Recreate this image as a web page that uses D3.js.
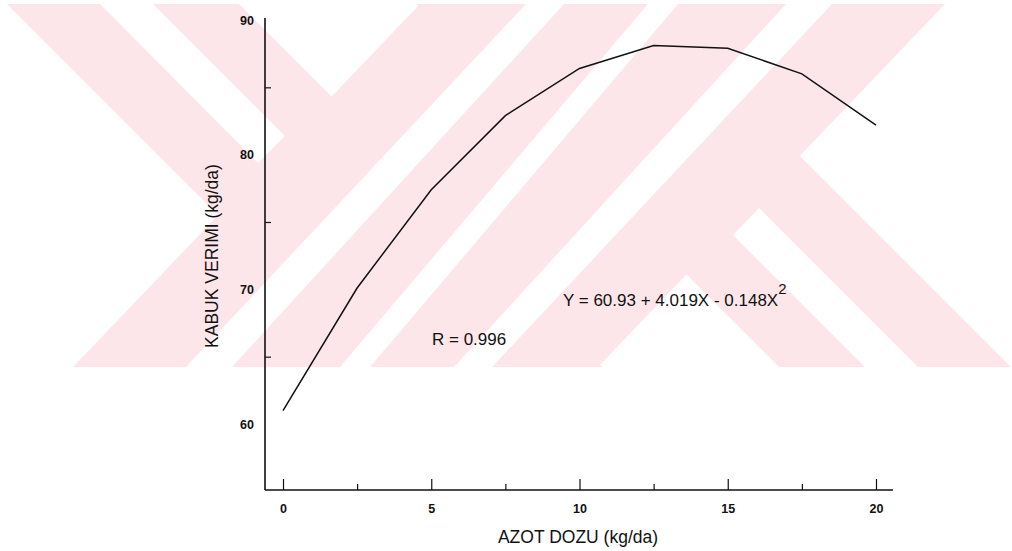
<!DOCTYPE html>
<html>
<head>
<meta charset="utf-8">
<script src="https://cdnjs.cloudflare.com/ajax/libs/d3/7.8.5/d3.min.js"></script>
<style>
  body { margin: 0; background: #fff; }
  svg { display: block; }
  text { font-family: "Liberation Sans", Arial, sans-serif; fill: #111; }
</style>
</head>
<body>
<div id="container"></div>
<script>
// data
var doses = [0, 2.5, 5, 7.5, 10, 12.5, 15, 17.5, 20];
var yields = [61.0, 70.1, 77.4, 82.9, 86.4, 88.1, 87.9, 86.0, 82.2];
var xMajor = [0, 5, 10, 15, 20];
var xMinor = [2.5, 7.5, 12.5, 17.5];
var yMajor = [60, 70, 80, 90];
var yMinor = [65, 75, 85];

var w = 1012, h = 551;

var svg = d3.select("#container")
  .append("svg")
  .attr("width", w)
  .attr("height", h);

svg.append("rect").attr("width", w).attr("height", h).attr("fill", "#fff");

// background watermark (pale pink bands, cut by white stripes)
var pinkBands = [
  [[7,4],[239,4],[602,367],[370,367]],
  [[420,4],[945,4],[598,367],[73,367]],
  [[416,4],[648,4],[1011,367],[779,367]]
];
var whiteCuts = [
  [[100,4],[153,4],[285,136],[258,163]],
  [[526,4],[564,4],[232,367],[186,367]],
  [[648,4],[678,4],[370,367],[340,367]],
  [[786,4],[832,4],[492,367],[454,367]],
  [[865,367],[918,367],[759,208],[733,235]]
];
var mark = svg.append("g").attr("class", "watermark");
mark.selectAll("polygon.pink")
  .data(pinkBands)
  .enter()
  .append("polygon")
  .attr("class", "pink")
  .attr("points", function(d) { return d.join(" "); })
  .attr("fill", "#fde6ea");
mark.selectAll("polygon.cut")
  .data(whiteCuts)
  .enter()
  .append("polygon")
  .attr("class", "cut")
  .attr("points", function(d) { return d.join(" "); })
  .attr("fill", "#fff");

// scales
var x = d3.scaleLinear().domain([0, 20]).range([283, 876]);
var y = d3.scaleLinear().domain([60, 90]).range([424, 20]);

// x axis
svg.append("g")
  .attr("transform", "translate(0,490)")
  .call(d3.axisBottom(x).tickValues(xMajor).tickSizeInner(-11).tickSizeOuter(0).tickPadding(14));
svg.append("g")
  .attr("transform", "translate(0,490)")
  .call(d3.axisBottom(x).tickValues(xMinor).tickSizeInner(-6).tickSizeOuter(0).tickFormat(""));

// y axis
svg.append("g")
  .attr("transform", "translate(265,0)")
  .call(d3.axisLeft(y).tickValues(yMajor).tickSize(0).tickPadding(11));
svg.append("g")
  .attr("transform", "translate(265,0)")
  .call(d3.axisRight(y).tickValues(yMinor).tickSizeInner(6).tickSizeOuter(0).tickFormat(""));

svg.selectAll(".domain").remove();
svg.selectAll(".tick line").attr("stroke", "#111").attr("stroke-width", 1.2);
svg.selectAll(".tick text")
  .attr("font-family", "'Liberation Sans', Arial, sans-serif")
  .attr("font-size", "12.5px")
  .attr("font-weight", "bold")
  .attr("fill", "#111");

// axis lines
svg.append("line")
  .attr("x1", 265).attr("x2", 893)
  .attr("y1", 490).attr("y2", 490)
  .attr("stroke", "#111").attr("stroke-width", 1.6);
svg.append("line")
  .attr("x1", 265).attr("x2", 265)
  .attr("y1", 18).attr("y2", 490)
  .attr("stroke", "#111").attr("stroke-width", 1.6);

// curve
var line = d3.line()
  .x(function(d, i) { return x(doses[i]); })
  .y(function(d) { return y(d); });

svg.append("path")
  .datum(yields)
  .attr("d", line)
  .attr("fill", "none")
  .attr("stroke", "#111")
  .attr("stroke-width", 1.5);

// axis titles
svg.append("text")
  .attr("x", 578)
  .attr("y", 543)
  .attr("text-anchor", "middle")
  .attr("font-size", "17.5px")
  .text("AZOT DOZU (kg/da)");

svg.append("text")
  .attr("transform", "translate(218,256) rotate(-90)")
  .attr("text-anchor", "middle")
  .attr("font-size", "17.5px")
  .text("KABUK VERIMI (kg/da)");

// annotations
var eq = svg.append("text")
  .attr("x", 563)
  .attr("y", 306)
  .attr("font-size", "17px");
eq.append("tspan").text("Y = 60.93 + 4.019X - 0.148X");
eq.append("tspan").attr("dy", -12).attr("font-size", "15px").text("2");

svg.append("text")
  .attr("x", 432)
  .attr("y", 345)
  .attr("font-size", "17px")
  .text("R = 0.996");
</script>
</body>
</html>
